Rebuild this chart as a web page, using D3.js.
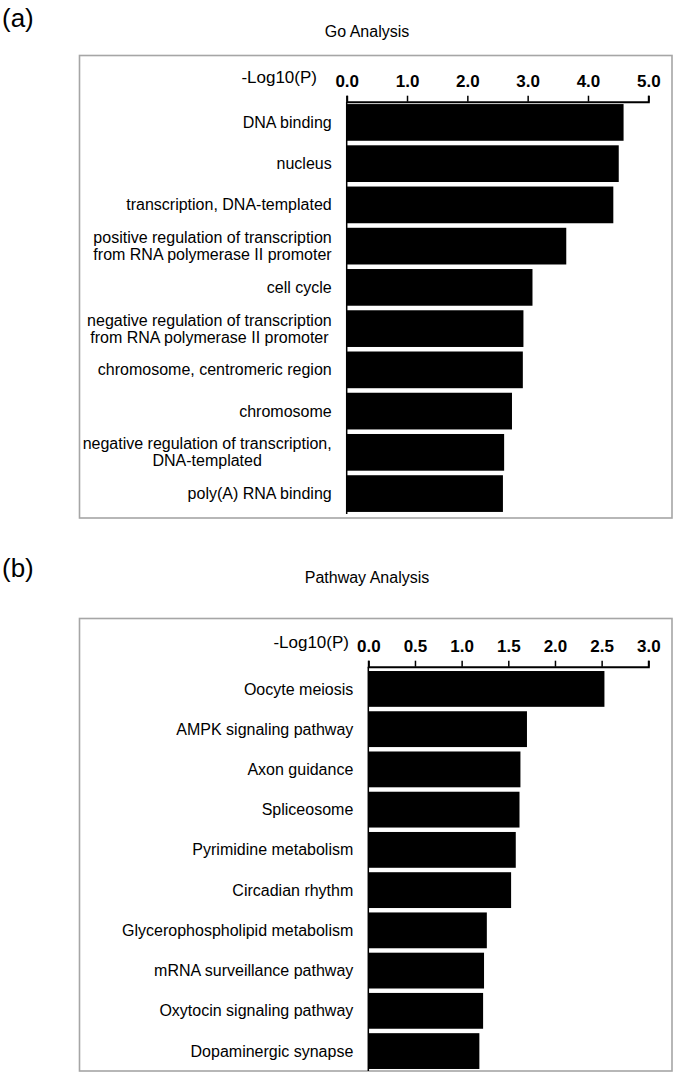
<!DOCTYPE html>
<html>
<head>
<meta charset="utf-8">
<script src="https://cdn.jsdelivr.net/npm/d3@7"></script>
<style>
  html, body { margin: 0; padding: 0; background: #fff; }
  svg { display: block; }
  text { font-family: "Liberation Sans", Arial, Helvetica, sans-serif; fill: #000; }
</style>
</head>
<body>
<svg id="chart" width="675" height="1074"></svg>
<script>
// ---- Data ----
const goCategories = [
  "DNA binding",
  "nucleus",
  "transcription, DNA-templated",
  "positive regulation of transcription\nfrom RNA polymerase II promoter",
  "cell cycle",
  "negative regulation of transcription\nfrom RNA polymerase II promoter",
  "chromosome, centromeric region",
  "chromosome",
  "negative regulation of transcription,\nDNA-templated",
  "poly(A) RNA binding"
];
const goValues = [4.59, 4.51, 4.42, 3.64, 3.08, 2.93, 2.92, 2.74, 2.61, 2.59];
const goTicks = [0, 1, 2, 3, 4, 5];

const pathwayCategories = [
  "Oocyte meiosis",
  "AMPK signaling pathway",
  "Axon guidance",
  "Spliceosome",
  "Pyrimidine metabolism",
  "Circadian rhythm",
  "Glycerophospholipid metabolism",
  "mRNA surveillance pathway",
  "Oxytocin signaling pathway",
  "Dopaminergic synapse"
];
const pathwayValues = [2.53, 1.70, 1.63, 1.62, 1.58, 1.53, 1.27, 1.24, 1.23, 1.19];
const pathwayTicks = [0, 0.5, 1.0, 1.5, 2.0, 2.5, 3.0];

const panelLabels = ["(a)", "(b)"];
const panelTitles = ["Go Analysis", "Pathway Analysis"];
const axisTitle = "-Log10(P)";

// ---- Drawing ----
const svg = d3.select("#chart");

function drawPanel(cfg) {
  const g = svg.append("g");

  // panel letter
  g.append("text").attr("x", cfg.letterX).attr("y", cfg.letterY)
    .style("font-size", "26px").text(cfg.letter);

  // title
  g.append("text").attr("x", cfg.titleX).attr("y", cfg.titleY)
    .attr("text-anchor", "middle").style("font-size", "16px").text(cfg.title);

  // box
  g.append("rect")
    .attr("x", cfg.box[0]).attr("y", cfg.box[1])
    .attr("width", cfg.box[2] - cfg.box[0]).attr("height", cfg.box[3] - cfg.box[1])
    .attr("fill", "none").attr("stroke", "#a6a6a6").attr("stroke-width", 1.6);

  const x = d3.scaleLinear().domain(cfg.domain).range(cfg.xRange);
  const y = d3.scaleBand().domain(cfg.categories).range(cfg.yRange)
    .paddingInner(0.11).paddingOuter(0.05);

  // bars
  g.append("g").selectAll("rect").data(cfg.values).join("rect")
    .attr("x", x(0))
    .attr("y", (d, i) => y(cfg.categories[i]))
    .attr("width", d => x(d) - x(0))
    .attr("height", y.bandwidth())
    .attr("fill", "#000");

  // vertical category axis line
  g.append("line")
    .attr("x1", x(0)).attr("x2", x(0))
    .attr("y1", cfg.axisY).attr("y2", cfg.yRange[1])
    .attr("stroke", "#000").attr("stroke-width", 1.5);

  // top value axis
  const ax = g.append("g").attr("transform", `translate(0,${cfg.axisY})`)
    .call(d3.axisTop(x).tickValues(cfg.ticks).tickSize(6).tickPadding(9)
      .tickFormat(d3.format(".1f")));
  ax.select(".domain").attr("stroke", "#000").attr("stroke-width", 2);
  ax.selectAll(".tick line").attr("stroke", "#000").attr("stroke-width", 1.5);
  ax.selectAll(".tick text")
    .style("font-size", "17px").style("font-weight", "bold")
    .style("font-family", '"Liberation Sans", Arial, sans-serif').attr("fill", "#000");

  // axis title
  g.append("text").attr("x", cfg.axisTitleX).attr("y", cfg.axisY - 19)
    .attr("text-anchor", "end").style("font-size", "17px").text(axisTitle);

  // category labels
  const labX = x(0) - 15;
  cfg.categories.forEach((c, i) => {
    const lines = c.split("\n");
    const cy = y(c) + y.bandwidth() / 2;
    if (lines.length === 1) {
      g.append("text").attr("x", labX).attr("y", cy).attr("dy", "0.35em")
        .attr("text-anchor", "end").style("font-size", "16px").text(c);
    } else {
      const t1 = g.append("text").attr("x", labX).attr("y", cy - 8.5).attr("dy", "0.35em")
        .attr("text-anchor", "end").style("font-size", "16px").text(lines[0]);
      const w1 = t1.node().getComputedTextLength();
      const center = labX - w1 / 2;
      g.append("text").attr("x", center).attr("y", cy + 8.5).attr("dy", "0.35em")
        .attr("text-anchor", "middle").style("font-size", "16px").text(lines[1]);
    }
  });
}

drawPanel({
  letter: panelLabels[0], letterX: 2, letterY: 27,
  title: panelTitles[0], titleX: 367, titleY: 37,
  box: [79.5, 55.5, 672, 518],
  categories: goCategories, values: goValues, ticks: goTicks,
  domain: [0, 5], xRange: [346.7, 648.3],
  axisY: 101.7, yRange: [102, 514],
  axisTitleX: 317
});

drawPanel({
  letter: panelLabels[1], letterX: 2, letterY: 577,
  title: panelTitles[1], titleX: 367, titleY: 583,
  box: [79.5, 618.5, 672, 1071],
  categories: pathwayCategories, values: pathwayValues, ticks: pathwayTicks,
  domain: [0, 3], xRange: [368.3, 648.3],
  axisY: 666.7, yRange: [669, 1071],
  axisTitleX: 349
});
</script>
</body>
</html>
